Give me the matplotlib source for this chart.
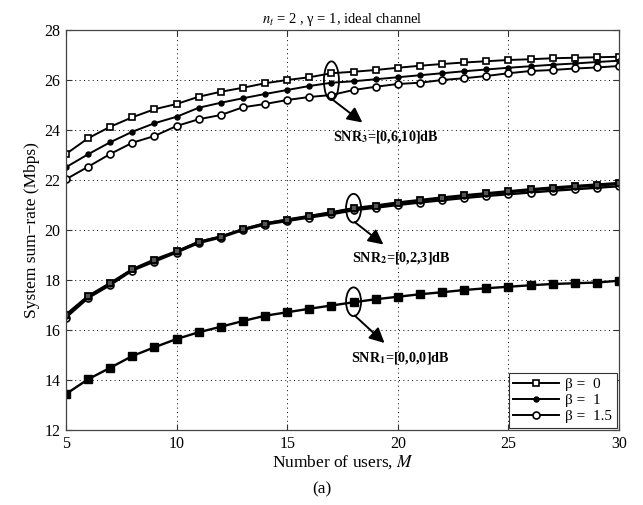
import numpy as np
import matplotlib
matplotlib.use('Agg')
import matplotlib.pyplot as plt
from matplotlib.patches import Ellipse

plt.rcParams['font.family'] = ['Liberation Serif', 'DejaVu Serif']
plt.rcParams['mathtext.fontset'] = 'stix'

# ---- data ----
M = np.arange(5, 31)

snr3_b0 = [23.04, 23.67, 24.13, 24.51, 24.83, 25.04, 25.33, 25.53, 25.69, 25.87, 26.00, 26.11, 26.27,
           26.33, 26.40, 26.49, 26.57, 26.64, 26.70, 26.75, 26.80, 26.83, 26.87, 26.89, 26.91, 26.93]
snr3_b1 = [22.51, 23.03, 23.51, 23.93, 24.27, 24.53, 24.89, 25.09, 25.27, 25.44, 25.60, 25.76, 25.89,
           25.95, 26.03, 26.11, 26.19, 26.27, 26.35, 26.42, 26.49, 26.55, 26.61, 26.66, 26.72, 26.77]
snr3_b15 = [22.03, 22.53, 23.04, 23.49, 23.76, 24.16, 24.43, 24.60, 24.91, 25.04, 25.20, 25.32, 25.40,
            25.60, 25.73, 25.84, 25.89, 26.00, 26.07, 26.16, 26.27, 26.36, 26.40, 26.46, 26.50, 26.56]

snr2_b0 = [16.62, 17.36, 17.88, 18.43, 18.82, 19.15, 19.52, 19.74, 20.03, 20.26, 20.42, 20.56, 20.71,
           20.87, 20.98, 21.10, 21.20, 21.30, 21.39, 21.47, 21.55, 21.63, 21.70, 21.76, 21.82, 21.88]
snr2_b1 = [16.56, 17.33, 17.84, 18.43, 18.77, 19.13, 19.53, 19.73, 20.03, 20.27, 20.40, 20.55, 20.69,
           20.85, 20.95, 21.07, 21.17, 21.27, 21.36, 21.44, 21.51, 21.59, 21.66, 21.72, 21.78, 21.84]
snr2_b15 = [16.50, 17.28, 17.80, 18.38, 18.74, 19.10, 19.48, 19.70, 20.00, 20.22, 20.36, 20.50, 20.63,
            20.79, 20.89, 21.00, 21.10, 21.19, 21.28, 21.36, 21.43, 21.50, 21.57, 21.63, 21.69, 21.75]

snr1 = [13.44, 14.03, 14.49, 14.96, 15.31, 15.64, 15.91, 16.13, 16.36, 16.57, 16.71, 16.85, 16.98,
        17.11, 17.23, 17.33, 17.43, 17.51, 17.60, 17.67, 17.73, 17.79, 17.84, 17.87, 17.90, 17.97]

betas = ['0', '1', '1.5']

fig = plt.figure(figsize=(6.43, 5.05), dpi=100)
ax = fig.add_axes([0.1026, 0.1485, 0.8601, 0.7921])

sty = {
    '0': dict(marker='s', mfc='white', mec='k', ms=5.0, mew=1.2),
    '1': dict(marker='o', mfc='k', mec='k', ms=3.6, mew=1.0),
    '1.5': dict(marker='o', mfc='white', mec='k', ms=5.0, mew=1.2),
}
lw = 1.4

# SNR1: curves coincide, drawn as filled squares
ax.plot(M, snr1, color='k', lw=1.7, marker='s', mfc='k', mec='k', ms=5.8)

# SNR2
ax.plot(M, snr2_b15, color='k', lw=1.7, **sty['1.5'])
ax.plot(M, snr2_b1, color='k', lw=1.7, **sty['1'])
ax.plot(M, snr2_b0, color='k', lw=1.7, marker='s', mfc='#555555', mec='k', ms=4.3, mew=1.3)

# SNR3 (with legend)
ax.plot(M, snr3_b0, color='k', lw=lw, label='β =  ' + betas[0], **sty['0'])
ax.plot(M, snr3_b1, color='k', lw=lw, label='β =  ' + betas[1], **sty['1'])
ax.plot(M, snr3_b15, color='k', lw=lw, label='β =  ' + betas[2], **sty['1.5'])

ax.set_xlim(5, 30)
ax.set_ylim(12, 28)
ax.set_xticks(range(5, 31, 5))
ax.set_yticks(range(12, 29, 2))
ax.tick_params(direction='in', length=4, width=0.8, labelsize=11.5, top=True, right=True,
               color='#333333', pad=4)
for s in ax.spines.values():
    s.set_color('#444444')
    s.set_linewidth(0.9)
ax.grid(True, color='k', linestyle=(0, (1, 3.5)), linewidth=0.7)

ax.set_xlabel('Number of users, $M$', fontsize=12.5, labelpad=1)
ax.set_ylabel('System sum\u2212rate (Mbps)', fontsize=12.5, labelpad=3)
ax.set_title('$n_t$ = 2 , γ = 1, ideal channel', fontsize=10.5, pad=5)
fig.text(0.5, 0.03, '(a)', ha='center', va='center', fontsize=12.5)

# annotations: ellipse + arrow + label
annots = [
    (17.0, 25.97, 1.55, 'SNR$_\\mathbf{3}$=[0,6,10]dB', (17.0, 25.25), (18.4, 24.3), (19.45, 23.7)),
    (18.0, 20.87, 1.15, 'SNR$_\\mathbf{2}$=[0,2,3]dB', (18.05, 20.32), (19.35, 19.42), (20.15, 18.9)),
    (18.0, 17.13, 1.15, 'SNR$_\\mathbf{1}$=[0,0,0]dB', (18.05, 16.58), (19.4, 15.48), (20.1, 14.9)),
]
for xc, yc, h, txt, p0, p1, pt in annots:
    ax.add_patch(Ellipse((xc, yc), 0.68, h, fill=False, ec='k', lw=1.3, zorder=5))
    ax.annotate('', xy=p1, xytext=p0,
                arrowprops=dict(arrowstyle='-|>,head_length=0.9,head_width=0.45',
                                color='k', lw=1.4, shrinkA=0, shrinkB=0), zorder=5)
    ax.text(pt[0], pt[1], txt, ha='center', va='center', fontsize=10.2, fontweight='bold')

leg = ax.legend(loc='lower right', fontsize=11, fancybox=False, framealpha=1,
                edgecolor='#333333', borderaxespad=0.15, handlelength=3.0,
                handletextpad=0.4, labelspacing=0.15, borderpad=0.3)
leg.get_frame().set_linewidth(0.8)

fig.savefig('out.png', dpi=100)
